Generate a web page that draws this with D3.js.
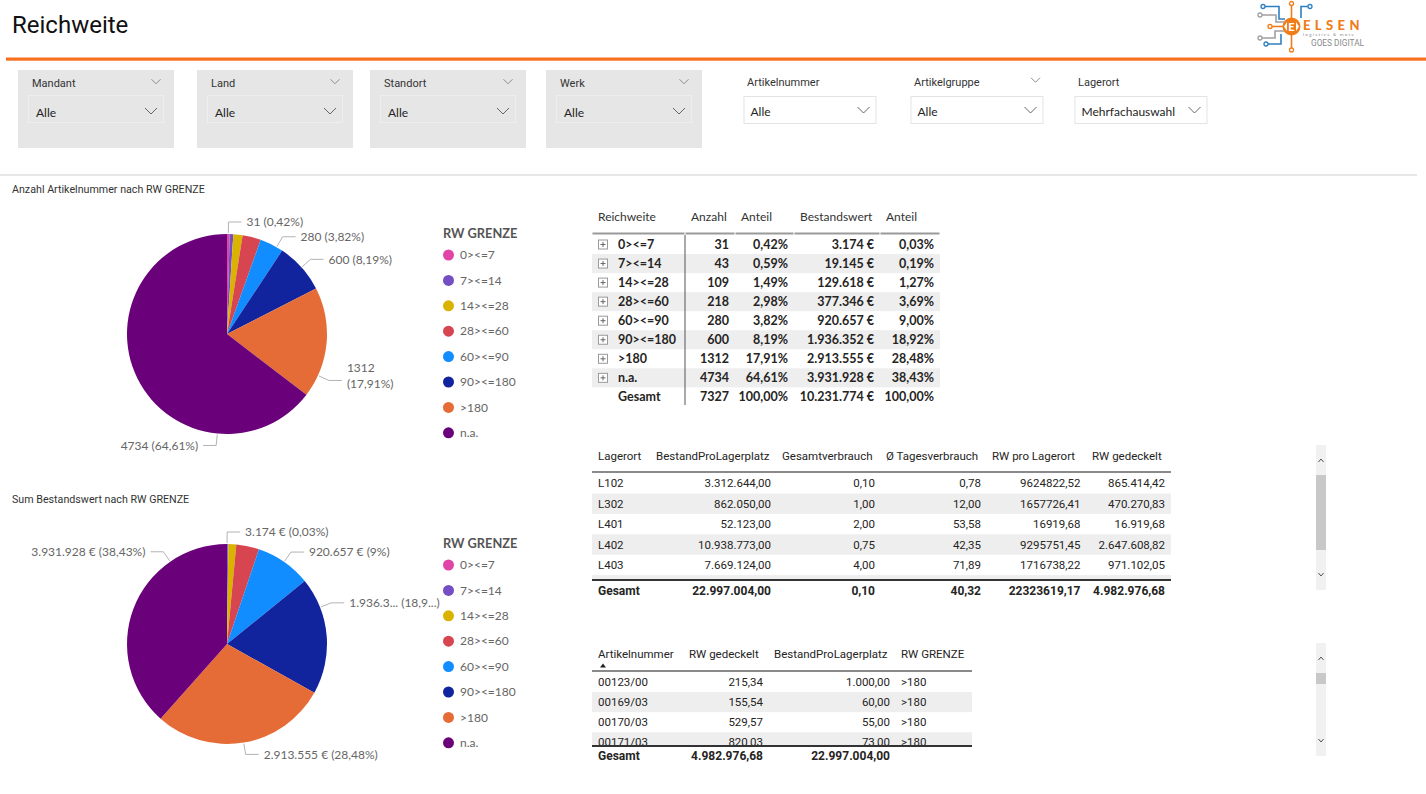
<!DOCTYPE html>
<html>
<head>
<meta charset="utf-8">
<script src="https://cdn.jsdelivr.net/npm/d3@7"></script>
<style>
  body { margin: 0; background: #fff; }
  svg { display: block; }
</style>
</head>
<body>
<script>
// ---- data ----
var categories = ["0><=7", "7><=14", "14><=28", "28><=60", "60><=90", "90><=180", ">180", "n.a."];
var anzahl = [31, 43, 109, 218, 280, 600, 1312, 4734];
var anzahlAnteil = [0.42, 0.59, 1.49, 2.98, 3.82, 8.19, 17.91, 64.61];
var bestandswert = [3174, 19145, 129618, 377346, 920657, 1936352, 2913555, 3931928];
var bestandAnteil = [0.03, 0.19, 1.27, 3.69, 9.00, 18.92, 28.48, 38.43];
var gesamtAnzahl = 7327;
var gesamtBestandswert = 10231774;

var headers1 = ["Reichweite", "Anzahl", "Anteil", "Bestandswert", "Anteil"];

var headers2 = ["Lagerort", "BestandProLagerplatz", "Gesamtverbrauch", "Ø Tagesverbrauch", "RW pro Lagerort", "RW gedeckelt"];
var lagerorte = ["L102", "L302", "L401", "L402", "L403"];
var bestandProLagerplatz = [3312644.00, 862050.00, 52123.00, 10938773.00, 7669124.00];
var gesamtverbrauch = [0.10, 1.00, 2.00, 0.75, 4.00];
var tagesverbrauch = [0.78, 12.00, 53.58, 42.35, 71.89];
var rwProLagerort = [9624822.52, 1657726.41, 16919.68, 9295751.45, 1716738.22];
var rwGedeckelt = [865414.42, 470270.83, 16919.68, 2647608.82, 971102.05];
var lagerGesamt = [22997004.00, 0.10, 40.32, 22323619.17, 4982976.68];

var headers3 = ["Artikelnummer", "RW gedeckelt", "BestandProLagerplatz", "RW GRENZE"];
var artikelnummern = ["00123/00", "00169/03", "00170/03", "00171/03"];
var artikelRwGedeckelt = [215.34, 155.54, 529.57, 820.03];
var artikelBestand = [1000.00, 60.00, 55.00, 73.00];
var artikelRwGrenze = [">180", ">180", ">180", ">180"];
var artikelGesamt = [4982976.68, 22997004.00];

var slicerTitles = ["Mandant", "Land", "Standort", "Werk", "Artikelnummer", "Artikelgruppe", "Lagerort"];
var slicerValues = ["Alle", "Alle", "Alle", "Alle", "Alle", "Alle", "Mehrfachauswahl"];

var colors = ["#E044A7", "#744EC2", "#D9B300", "#D64550", "#118DFF", "#12239E", "#E66C37", "#6B007B"];

// ---- fonts / formats ----
var fUI = "Lato, 'Open Sans', sans-serif";
var fNarrow = "Roboto, sans-serif";
var fDin = "Roboto, 'DejaVu Sans', sans-serif";

var de = d3.formatLocale({decimal: ",", thousands: ".", grouping: [3], currency: ["", " €"]});
var fmtInt = de.format("d");
var fmtPct = function(v) { return de.format(".2f")(v) + "%"; };
var fmtPctShort = function(v) { return de.format(".2~f")(v) + "%"; };
var fmtEur = de.format("$,.0f");
var fmtNum = de.format(",.2f");
var fmtPlain = de.format(".2f");

var svg = d3.select("body").append("svg")
  .attr("width", 1426)
  .attr("height", 794);

function chevron(g, cx, cy, w, h, color) {
  g.append("path")
    .attr("d", `M${cx - w / 2},${cy - h / 2}L${cx},${cy + h / 2}L${cx + w / 2},${cy - h / 2}`)
    .attr("fill", "none")
    .attr("stroke", color)
    .attr("stroke-width", 1);
}

// ---- header ----
svg.append("text")
  .attr("x", 12).attr("y", 33)
  .style("font-family", fDin).style("font-size", "24px").attr("fill", "#111")
  .text("Reichweite");

svg.append("rect")
  .attr("x", 6).attr("y", 57.5).attr("width", 1420).attr("height", 3.2)
  .attr("fill", "#F7701F");

svg.append("rect")
  .attr("x", 0).attr("y", 174.5).attr("width", 1417).attr("height", 1)
  .attr("fill", "#CFCFCF");

// logo
var logo = svg.append("g");
var lo = "#F07D1A", lb = "#2F7FC1", lg = "#A0A0A0";
[
  {d: "M1265,6.5H1279V19H1285", c: lb},
  {d: "M1308,6.5H1301V18", c: lb},
  {d: "M1262,15H1276V22H1284", c: lg},
  {d: "M1272,26.5H1283", c: lo},
  {d: "M1262,38H1275V31H1284", c: lg},
  {d: "M1268,44H1281V34", c: lb},
  {d: "M1291.5,5V18", c: lo},
  {d: "M1291.5,35V48", c: lo}
].forEach(function(p) {
  logo.append("path").attr("d", p.d).attr("fill", "none").attr("stroke", p.c).attr("stroke-width", 1.6);
});
[
  {x: 1263, y: 6.5, c: lb}, {x: 1310, y: 6.5, c: lb}, {x: 1260, y: 15, c: lg},
  {x: 1270, y: 26.5, c: lo}, {x: 1260, y: 38, c: lg}, {x: 1266, y: 44, c: lb},
  {x: 1291.5, y: 3.5, c: lo}, {x: 1291.5, y: 50, c: lo}
].forEach(function(n) {
  logo.append("circle").attr("cx", n.x).attr("cy", n.y).attr("r", 2)
    .attr("fill", "#fff").attr("stroke", n.c).attr("stroke-width", 1.3);
});
logo.append("circle").attr("cx", 1291.5).attr("cy", 26.5).attr("r", 9).attr("fill", lo);
logo.append("path").attr("d", "M1284,26.5L1287,22V31Z M1299,26.5L1296,22V31Z").attr("fill", "#fff");
logo.append("text").attr("x", 1291.5).attr("y", 30.5).attr("text-anchor", "middle")
  .style("font-family", fUI).style("font-weight", "900").style("font-size", "11px")
  .attr("fill", "#fff").text("E");
logo.append("text").attr("x", 1303).attr("y", 30).style("font-family", fUI)
  .style("font-weight", "900").style("font-size", "13px").style("letter-spacing", "4.4px")
  .attr("fill", lo).text("ELSEN");
logo.append("text").attr("x", 1303).attr("y", 35.5).style("font-family", fUI)
  .style("font-size", "4.5px").style("letter-spacing", "1.3px")
  .attr("fill", "#888").text("logistics & more");
logo.append("text").attr("x", 1311).attr("y", 46).style("font-family", fDin)
  .style("font-size", "8.3px").attr("fill", "#8a8a8a").text("GOES DIGITAL");

// ---- slicers ----
var greySlicerX = [18, 197, 370, 546];
greySlicerX.forEach(function(x, i) {
  var s = svg.append("g").attr("transform", `translate(${x},70)`);
  s.append("rect").attr("width", 156).attr("height", 78).attr("fill", "#E6E6E6");
  s.append("rect").attr("x", 10.5).attr("y", 25.5).attr("width", 135).attr("height", 27)
    .attr("fill", "none").attr("stroke", "#EEEEEE");
  s.append("text").attr("x", 14).attr("y", 13.5).attr("dy", "0.35em")
    .style("font-family", fDin).style("font-size", "11px").attr("fill", "#333")
    .text(slicerTitles[i]);
  chevron(s, 138, 11.5, 9, 4.5, "#8c8c8c");
  s.append("text").attr("x", 18).attr("y", 42.5).attr("dy", "0.35em")
    .style("font-family", fUI).style("font-size", "12px").attr("fill", "#252423")
    .text(slicerValues[i]);
  chevron(s, 133, 41, 12, 6, "#666");
});

var whiteSlicerX = [743.5, 910.5, 1074.5];
whiteSlicerX.forEach(function(x, j) {
  var i = j + 4;
  var s = svg.append("g").attr("transform", `translate(${x},0)`);
  s.append("text").attr("x", 3.5).attr("y", 82.5).attr("dy", "0.35em")
    .style("font-family", fDin).style("font-size", "11px").attr("fill", "#333")
    .text(slicerTitles[i]);
  if (j === 1) chevron(s, 125, 80, 9, 4.5, "#8c8c8c");
  s.append("rect").attr("x", 0.5).attr("y", 96.5).attr("width", 132).attr("height", 27)
    .attr("fill", "#fff").attr("stroke", "#E3E3E3");
  s.append("text").attr("x", 7).attr("y", 111.5).attr("dy", "0.35em")
    .style("font-family", fUI).style("font-size", "12px").attr("fill", "#252423")
    .text(slicerValues[i]);
  chevron(s, 120, 110, 12, 6, "#666");
});

// ---- pies ----
var R = 100;
var arc = d3.arc().innerRadius(0).outerRadius(R);

function drawPie(cx, cy, title, values, labelText, layout) {
  svg.append("text").attr("x", 12).attr("y", cy - 145).attr("dy", "0.35em")
    .style("font-family", fDin).style("font-size", "10.7px").attr("fill", "#333")
    .text(title);

  var g = svg.append("g").attr("transform", `translate(${cx},${cy})`);
  var arcs = d3.pie().sort(null).value(function(d) { return d; })(values);

  g.selectAll("path.slice")
    .data(arcs)
    .join("path")
    .attr("class", "slice")
    .attr("d", arc)
    .attr("fill", function(d, i) { return colors[i]; });

  arcs.forEach(function(d, i) {
    var L = layout[i];
    if (!L) return;
    var a = d.startAngle + L.at * (d.endAngle - d.startAngle);
    var pt = function(rr) { return [Math.sin(a) * rr, -Math.cos(a) * rr]; };
    var side = Math.sin(a) >= 0 ? 1 : -1;
    var p0 = pt(R + 1), p1 = pt(R + 12);
    var p2 = [p1[0] + side * 13, p1[1]];
    g.append("path")
      .attr("d", d3.line()([p0, p1, p2]))
      .attr("fill", "none").attr("stroke", "#B3B3B3").attr("stroke-width", 1);

    var lines = labelText(i, L);
    var t = g.append("text")
      .attr("text-anchor", side > 0 ? "start" : "end")
      .style("font-family", fUI).style("font-size", "12px").attr("fill", "#666");
    if (lines.length === 1) {
      t.attr("x", p2[0] + side * 5).attr("y", p2[1]).attr("dy", "0.35em").text(lines[0]);
    } else {
      lines.forEach(function(s, k) {
        t.append("tspan").attr("x", p2[0] + side * 5).attr("y", p2[1] - 13 + k * 16.5)
          .attr("dy", "0.35em").text(s);
      });
    }
  });

  // legend
  var lg = svg.append("g").attr("transform", `translate(443,${cy - 100})`);
  lg.append("text").attr("x", 0).attr("y", 0).attr("dy", "0.35em")
    .style("font-family", fUI).style("font-weight", "bold").style("font-size", "12.8px")
    .attr("fill", "#555").text("RW GRENZE");
  var item = lg.selectAll("g.item").data(categories).join("g")
    .attr("class", "item")
    .attr("transform", function(d, i) { return `translate(0,${21 + i * 25.4})`; });
  item.append("circle").attr("cx", 5.5).attr("cy", 0).attr("r", 5.5)
    .attr("fill", function(d, i) { return colors[i]; });
  item.append("text").attr("x", 17).attr("y", 0).attr("dy", "0.35em")
    .style("font-family", fUI).style("font-size", "12px").attr("fill", "#666")
    .text(function(d) { return d; });
}

// where along each labelled slice Power BI put the leader line
var pie1Layout = {0: {at: 0.5}, 4: {at: 0.73}, 5: {at: 0.5}, 6: {at: 0.8, wrap: true}, 7: {at: 0.25}};
var pie2Layout = {0: {at: 0.5}, 4: {at: 0.5}, 5: {at: 0.256, trunc: [7, 4]}, 6: {at: 0.5}, 7: {at: 0.75}};

drawPie(227, 334, "Anzahl Artikelnummer nach RW GRENZE", anzahl, function(i, L) {
  var v = fmtInt(anzahl[i]), p = "(" + fmtPct(anzahlAnteil[i]) + ")";
  return L.wrap ? [v, p] : [v + " " + p];
}, pie1Layout);

drawPie(227, 644, "Sum Bestandswert nach RW GRENZE", bestandswert, function(i, L) {
  var v = fmtEur(bestandswert[i]), p = fmtPctShort(bestandAnteil[i]);
  if (L.trunc) return [v.slice(0, L.trunc[0]) + "... (" + p.slice(0, L.trunc[1]) + "...)"];
  return [v + " (" + p + ")"];
}, pie2Layout);

// ---- tables ----
function cellText(g, x, y, s, anchor, font, size, weight, color) {
  g.append("text").attr("x", x).attr("y", y).attr("dy", "0.35em")
    .attr("text-anchor", anchor)
    .style("font-family", font).style("font-size", size).style("font-weight", weight)
    .attr("fill", color).text(s);
}

function drawTable(o) {
  var g = svg.append("g");
  o.headers.forEach(function(h, c) {
    cellText(g, o.cols[c].x0 + 6, o.headY, h, "start", o.font, o.headSize, "normal", o.headColor);
  });
  var body = g.append("g");
  if (o.clip) {
    svg.append("clipPath").attr("id", o.clip.id).append("rect")
      .attr("x", o.bandX[0]).attr("y", o.clip.y0)
      .attr("width", o.bandX[1] - o.bandX[0]).attr("height", o.clip.y1 - o.clip.y0);
    body.attr("clip-path", `url(#${o.clip.id})`);
  }
  d3.range(o.rows.length + 1).filter(function(i) { return i % 2 === 1; }).forEach(function(i) {
    body.append("rect")
      .attr("x", o.bandX[0]).attr("y", o.rowY0 + i * o.rowH - o.rowH / 2)
      .attr("width", o.bandX[1] - o.bandX[0]).attr("height", o.rowH)
      .attr("fill", "#EEEEEE");
  });
  o.rows.forEach(function(row, r) {
    var y = o.rowY0 + r * o.rowH;
    row.forEach(function(s, c) {
      var col = o.cols[c];
      if (col.align === "end") cellText(body, col.x1 - 6, y, s, "end", o.font, o.size, o.weight, "#252423");
      else cellText(body, col.vx || col.x0 + 6, y, s, "start", o.font, o.size, o.weight, "#252423");
    });
    if (o.expander) o.expander(body, y);
  });
  o.total.forEach(function(s, c) {
    if (s === "") return;
    var col = o.cols[c];
    var x = col.align === "end" ? col.x1 - 6 : (col.vx || col.x0 + 6);
    cellText(g, x, o.totalY, s, col.align === "end" ? "end" : "start", o.font, o.totalSize || o.size, "bold", "#252423");
  });
  return g;
}

// table 1
var rows1 = categories.map(function(c, i) {
  return [c, fmtInt(anzahl[i]), fmtPct(anzahlAnteil[i]), fmtEur(bestandswert[i]), fmtPct(bestandAnteil[i])];
});
var cols1 = [
  {x0: 592, x1: 685, align: "start", vx: 618},
  {x0: 685, x1: 735, align: "end"},
  {x0: 735, x1: 794, align: "end"},
  {x0: 794, x1: 880, align: "end"},
  {x0: 880, x1: 940, align: "end"}
];
var t1 = drawTable({
  headers: headers1, cols: cols1, rows: rows1,
  total: ["Gesamt", fmtInt(gesamtAnzahl), fmtPct(100), fmtEur(gesamtBestandswert), fmtPct(100)],
  font: fUI, headSize: "12px", headColor: "#333", size: "12.5px", weight: "bold",
  headY: 217, rowY0: 244.5, rowH: 19.05, totalY: 397, bandX: [592, 940],
  expander: function(g, y) {
    g.append("rect").attr("x", 598.5).attr("y", y - 4.5).attr("width", 9).attr("height", 9)
      .attr("fill", "#fff").attr("stroke", "#9a9a9a");
    g.append("path").attr("d", `M600.5,${y}H605.5M603,${y - 2.5}V${y + 2.5}`)
      .attr("stroke", "#666").attr("stroke-width", 1);
  }
});
cols1.forEach(function(c) {
  t1.append("rect").attr("x", c.x0 + 0.5).attr("y", 232.5).attr("width", c.x1 - c.x0 - 1).attr("height", 2)
    .attr("fill", "#9a9a9a");
});
t1.append("rect").attr("x", 684.5).attr("y", 235).attr("width", 1).attr("height", 170).attr("fill", "#555");

// table 2
var rows2 = lagerorte.map(function(l, i) {
  return [l, fmtNum(bestandProLagerplatz[i]), fmtNum(gesamtverbrauch[i]), fmtNum(tagesverbrauch[i]),
    fmtPlain(rwProLagerort[i]), fmtNum(rwGedeckelt[i])];
});
var cols2 = [
  {x0: 592, x1: 650, align: "start"},
  {x0: 650, x1: 777, align: "end"},
  {x0: 776, x1: 881, align: "end"},
  {x0: 880, x1: 987, align: "end"},
  {x0: 986, x1: 1086.5, align: "end"},
  {x0: 1086, x1: 1171, align: "end"}
];
var t2 = drawTable({
  headers: headers2, cols: cols2, rows: rows2,
  total: ["Gesamt", fmtNum(lagerGesamt[0]), fmtNum(lagerGesamt[1]), fmtNum(lagerGesamt[2]),
    fmtPlain(lagerGesamt[3]), fmtNum(lagerGesamt[4])],
  font: fNarrow, headSize: "11.5px", headColor: "#252423", size: "11.5px", totalSize: "12px", weight: "normal",
  headY: 456, rowY0: 483.3, rowH: 20.4, totalY: 591, bandX: [592, 1171],
  clip: {id: "clip2", y0: 473, y1: 579}
});
t2.append("rect").attr("x", 592).attr("y", 471).attr("width", 579).attr("height", 2).attr("fill", "#8a8a8a");
t2.append("rect").attr("x", 592).attr("y", 579).attr("width", 579).attr("height", 2).attr("fill", "#333");

// table 3
var rows3 = artikelnummern.map(function(a, i) {
  return [a, fmtNum(artikelRwGedeckelt[i]), fmtNum(artikelBestand[i]), artikelRwGrenze[i]];
});
var cols3 = [
  {x0: 592, x1: 683, align: "start"},
  {x0: 683, x1: 769, align: "end"},
  {x0: 768, x1: 896, align: "end"},
  {x0: 895, x1: 972, align: "start"}
];
var t3 = drawTable({
  headers: headers3, cols: cols3, rows: rows3,
  total: ["Gesamt", fmtNum(artikelGesamt[0]), fmtNum(artikelGesamt[1]), ""],
  font: fNarrow, headSize: "11.5px", headColor: "#252423", size: "11.5px", totalSize: "12px", weight: "normal",
  headY: 654, rowY0: 682, rowH: 20.1, totalY: 756, bandX: [592, 972],
  clip: {id: "clip3", y0: 672, y1: 745}
});
t3.append("path").attr("d", "M600,667.5L603,663.5L606,667.5Z").attr("fill", "#222");
t3.append("rect").attr("x", 592).attr("y", 670).attr("width", 380).attr("height", 2).attr("fill", "#8a8a8a");
t3.append("rect").attr("x", 592).attr("y", 745).attr("width", 380).attr("height", 2).attr("fill", "#333");

// scrollbars
function scrollbar(y0, y1, t0, t1) {
  var g = svg.append("g");
  g.append("rect").attr("x", 1316).attr("y", y0).attr("width", 10).attr("height", y1 - y0).attr("fill", "#F1F1F1");
  g.append("rect").attr("x", 1316).attr("y", t0).attr("width", 10).attr("height", t1 - t0).attr("fill", "#C8C8C8");
  g.append("path").attr("d", `M1318.5,${y0 + 17}L1321,${y0 + 14}L1323.5,${y0 + 17}`)
    .attr("fill", "none").attr("stroke", "#555");
  g.append("path").attr("d", `M1318.5,${y1 - 17}L1321,${y1 - 14}L1323.5,${y1 - 17}`)
    .attr("fill", "none").attr("stroke", "#555");
}
scrollbar(445, 590, 475, 550);
scrollbar(643, 756, 673, 684);
</script>
</body>
</html>
